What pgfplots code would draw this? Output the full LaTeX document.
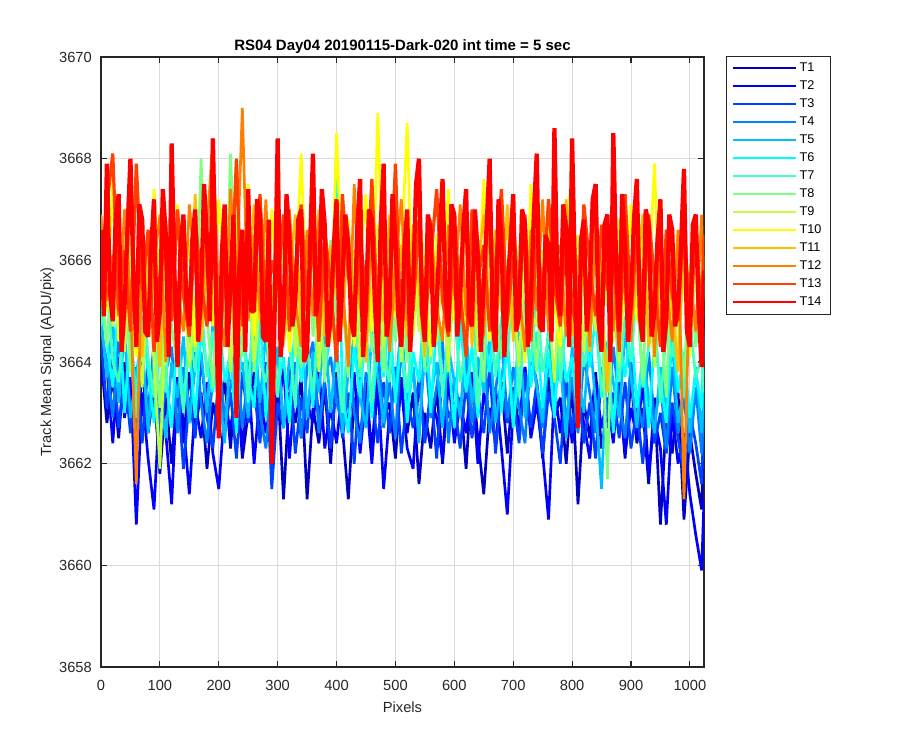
\documentclass[border=0pt]{standalone}
\usepackage{pgfplots}
\pgfplotsset{compat=1.18}
\usepackage{pgfplotstable}
\usepackage{fontspec}
\setmainfont{Liberation Sans}

% jet(14)
\definecolor{jetA}{rgb}{0,0,0.75}
\definecolor{jetB}{rgb}{0,0,1}
\definecolor{jetC}{rgb}{0,0.25,1}
\definecolor{jetD}{rgb}{0,0.5,1}
\definecolor{jetE}{rgb}{0,0.75,1}
\definecolor{jetF}{rgb}{0,1,1}
\definecolor{jetG}{rgb}{0.25,1,0.75}
\definecolor{jetH}{rgb}{0.5,1,0.5}
\definecolor{jetI}{rgb}{0.75,1,0.25}
\definecolor{jetJ}{rgb}{1,1,0}
\definecolor{jetK}{rgb}{1,0.75,0}
\definecolor{jetL}{rgb}{1,0.5,0}
\definecolor{jetM}{rgb}{1,0.25,0}
\definecolor{jetN}{rgb}{1,0,0}
\definecolor{axgray}{rgb}{0.15,0.15,0.15}

\pgfplotstableread{
x T1 T2 T3 T4 T5 T6 T7 T8 T9 T10 T11 T12 T13
0 3664.1 3663.6 3664.4 3664.6 3664.9 3665.2 3664.7 3665.6 3665.4 3666.3 3665.1 3666.9 3665.8
10 3662.8 3663.9 3663.1 3664.0 3663.7 3664.4 3665.6 3664.3 3666.6 3665.0 3666.7 3665.2 3667.1
20 3663.7 3662.4 3664.2 3662.9 3664.8 3663.5 3664.0 3666.2 3664.7 3667.6 3665.3 3666.1 3668.1
30 3662.5 3664.1 3662.7 3664.5 3663.2 3665.3 3663.6 3664.5 3665.9 3664.4 3666.0 3664.9 3665.0
40 3664.0 3662.9 3663.8 3663.3 3664.6 3663.0 3665.1 3665.8 3664.2 3666.5 3664.6 3667.0 3666.2
50 3663.1 3663.7 3662.6 3664.2 3662.9 3664.6 3664.3 3663.8 3666.3 3665.2 3667.2 3665.3 3664.6
60 3662.3 3660.8 3663.9 3662.7 3663.8 3663.3 3662.9 3665.2 3664.8 3664.1 3665.0 3661.6 3667.9
70 3663.9 3663.4 3662.4 3664.1 3664.4 3664.9 3665.5 3664.0 3663.5 3666.7 3664.1 3666.3 3665.4
80 3662.6 3662.1 3664.0 3663.0 3662.6 3663.8 3664.1 3666.0 3665.7 3664.6 3666.5 3664.7 3666.6
90 3663.5 3661.1 3663.2 3664.4 3664.1 3662.8 3663.3 3664.6 3664.0 3667.4 3665.4 3665.9 3664.2
100 3661.8 3663.3 3662.2 3662.5 3663.4 3664.5 3664.8 3663.1 3661.9 3665.3 3663.9 3666.9 3665.7
110 3663.3 3662.6 3663.6 3663.8 3662.5 3663.7 3663.4 3665.4 3665.0 3666.0 3666.8 3664.0 3666.3
120 3662.0 3661.2 3662.8 3664.3 3664.0 3662.7 3665.9 3664.7 3666.1 3664.9 3665.6 3666.1 3664.8
130 3663.6 3663.7 3663.5 3662.6 3663.3 3664.7 3664.2 3663.9 3664.9 3667.1 3664.3 3665.4 3667.0
140 3662.4 3662.8 3661.9 3663.9 3664.5 3663.2 3663.0 3666.3 3665.6 3665.4 3666.6 3664.6 3665.3
150 3663.8 3661.4 3663.3 3662.8 3662.8 3664.3 3664.7 3665.0 3663.9 3666.4 3665.0 3667.1 3664.5
160 3662.7 3663.2 3662.5 3664.6 3663.9 3662.9 3663.8 3664.2 3665.3 3664.3 3667.3 3665.8 3666.8
170 3663.4 3662.5 3664.1 3663.2 3664.2 3664.6 3665.2 3668.0 3664.6 3665.9 3664.4 3664.9 3665.6
180 3661.9 3663.6 3662.9 3662.4 3663.0 3663.9 3663.7 3664.9 3666.8 3666.6 3665.8 3666.6 3664.7
190 3663.2 3662.2 3662.3 3663.7 3664.8 3663.4 3664.6 3663.5 3665.5 3664.7 3666.2 3668.4 3666.9
200 3662.6 3661.5 3663.7 3664.1 3663.5 3664.9 3662.9 3665.7 3664.3 3667.2 3664.7 3665.2 3663.8
210 3663.7 3663.1 3662.6 3662.9 3662.4 3663.6 3665.4 3664.4 3666.2 3665.8 3666.9 3664.3 3665.9
220 3662.3 3662.7 3663.4 3663.5 3664.3 3664.2 3664.1 3668.1 3663.8 3664.8 3665.5 3667.4 3665.1
230 3663.9 3663.5 3662.1 3664.3 3663.6 3662.6 3663.5 3665.0 3665.8 3666.9 3664.2 3665.5 3668.0
240 3662.1 3662.3 3663.8 3662.7 3664.0 3664.8 3664.9 3664.1 3664.5 3665.2 3666.4 3669.0 3664.7
250 3663.0 3663.8 3662.8 3663.8 3662.9 3663.7 3663.2 3666.1 3666.4 3667.5 3665.3 3664.8 3666.4
260 3663.8 3662.0 3663.5 3664.6 3664.7 3663.1 3665.6 3663.8 3664.0 3664.5 3667.1 3666.5 3665.2
270 3662.5 3663.4 3662.4 3663.0 3663.2 3665.0 3664.0 3665.5 3665.2 3666.1 3664.8 3665.0 3667.3
280 3663.3 3662.6 3664.0 3662.3 3664.6 3662.9 3663.6 3664.7 3666.5 3664.6 3666.0 3667.2 3664.9
290 3662.2 3663.3 3661.5 3663.6 3663.1 3664.4 3664.7 3663.4 3663.7 3667.0 3665.0 3664.5 3666.0
300 3663.6 3662.9 3663.2 3664.2 3664.3 3663.5 3663.3 3666.0 3665.6 3665.3 3666.7 3666.1 3665.4
310 3661.3 3663.9 3662.7 3662.8 3662.7 3664.1 3665.1 3664.3 3664.6 3666.3 3664.4 3664.7 3666.9
320 3663.4 3662.1 3663.9 3663.3 3664.1 3662.8 3664.4 3665.6 3666.6 3664.2 3665.6 3667.0 3664.6
330 3662.8 3663.6 3662.2 3664.0 3663.5 3664.9 3663.1 3664.8 3664.1 3665.6 3666.9 3665.2 3665.8
340 3663.7 3662.5 3663.3 3662.5 3664.9 3663.6 3665.7 3663.9 3665.9 3668.1 3664.6 3664.3 3667.1
350 3661.3 3663.2 3662.6 3663.9 3662.9 3664.4 3664.3 3666.5 3664.9 3664.7 3666.3 3666.6 3665.0
360 3663.1 3662.8 3664.1 3664.4 3664.2 3663.1 3663.4 3664.5 3666.0 3666.6 3665.1 3664.9 3666.4
370 3662.4 3663.9 3662.9 3662.6 3663.4 3665.2 3664.9 3665.7 3663.8 3665.1 3667.0 3666.8 3664.4
380 3663.5 3662.3 3663.6 3663.7 3664.7 3663.8 3663.9 3663.6 3665.6 3666.2 3664.5 3665.3 3666.6
390 3662.0 3663.1 3662.3 3664.1 3663.0 3664.6 3665.6 3666.4 3664.4 3664.4 3666.3 3664.6 3665.5
400 3663.8 3662.4 3663.7 3663.2 3664.4 3668.2 3664.1 3664.8 3666.9 3668.5 3665.4 3666.4 3664.0
410 3662.7 3663.5 3662.5 3662.8 3662.6 3663.4 3663.0 3665.3 3665.0 3665.5 3664.7 3665.6 3667.3
420 3661.3 3662.7 3663.4 3664.5 3663.8 3662.6 3664.6 3663.7 3664.5 3666.8 3666.6 3663.9 3665.7
430 3663.3 3663.8 3662.0 3663.0 3664.5 3664.3 3665.3 3666.1 3666.2 3664.3 3665.2 3667.5 3664.9
440 3662.5 3662.2 3663.8 3662.4 3663.3 3663.3 3663.7 3664.6 3663.9 3665.9 3667.0 3665.1 3666.5
450 3663.6 3663.4 3662.8 3663.8 3662.7 3664.7 3664.5 3665.9 3665.8 3667.3 3664.0 3664.4 3665.3
460 3662.2 3662.0 3663.3 3663.3 3664.6 3662.9 3663.2 3664.2 3664.7 3664.6 3666.4 3666.9 3667.6
470 3663.9 3663.6 3662.4 3664.4 3663.7 3664.4 3665.0 3665.2 3666.7 3668.9 3665.7 3665.0 3664.7
480 3662.9 3661.5 3663.6 3662.7 3662.8 3663.7 3664.2 3663.8 3664.3 3665.0 3664.8 3666.6 3666.4
490 3663.2 3663.0 3662.6 3663.6 3664.2 3665.0 3663.6 3666.7 3665.5 3666.7 3666.9 3664.2 3665.1
500 3662.1 3662.6 3663.9 3662.5 3663.4 3663.2 3665.7 3664.4 3666.3 3664.9 3665.0 3665.9 3667.9
510 3663.7 3663.5 3662.2 3664.3 3664.8 3664.5 3664.3 3665.6 3664.0 3666.1 3666.3 3667.2 3664.3
520 3662.6 3662.3 3663.3 3663.1 3663.1 3662.8 3663.4 3664.0 3665.7 3668.7 3664.5 3664.8 3666.2
530 3663.4 3661.9 3662.7 3663.9 3663.9 3664.2 3664.8 3666.3 3666.5 3664.5 3666.7 3665.7 3665.0
540 3661.6 3663.7 3663.7 3662.6 3662.4 3663.6 3665.4 3665.1 3664.6 3667.0 3665.5 3666.3 3666.8
550 3663.0 3662.5 3662.4 3664.2 3664.6 3665.3 3663.8 3663.9 3665.3 3665.8 3664.1 3664.6 3664.8
560 3662.3 3663.3 3663.5 3662.9 3663.3 3663.0 3664.0 3666.4 3666.1 3664.1 3666.5 3666.8 3666.0
570 3663.5 3662.9 3662.1 3663.5 3664.0 3664.8 3665.5 3664.9 3664.4 3666.5 3665.2 3665.1 3667.4
580 3662.0 3662.1 3663.8 3664.4 3662.7 3663.5 3663.3 3665.8 3665.9 3665.3 3667.0 3664.4 3665.2
590 3663.6 3663.8 3662.9 3662.4 3664.3 3664.1 3664.7 3664.1 3663.8 3667.4 3664.6 3666.7 3664.5
600 3662.8 3662.4 3663.2 3663.7 3663.6 3662.7 3665.0 3665.5 3666.4 3664.8 3666.1 3665.3 3666.7
610 3663.3 3663.2 3662.3 3663.0 3662.9 3664.9 3663.6 3666.1 3664.9 3666.0 3665.3 3667.1 3665.4
620 3661.9 3662.6 3663.6 3664.1 3664.6 3663.4 3664.4 3664.3 3665.4 3664.2 3666.8 3664.9 3664.1
630 3663.8 3663.7 3662.5 3662.8 3663.2 3664.3 3665.8 3665.7 3666.6 3666.9 3664.3 3665.8 3667.0
640 3662.5 3662.0 3663.4 3663.8 3664.1 3662.9 3663.1 3664.8 3664.2 3665.2 3665.8 3666.4 3665.6
650 3661.4 3663.4 3662.6 3664.3 3663.4 3664.6 3664.6 3663.6 3665.7 3667.6 3666.9 3664.5 3666.3
660 3663.1 3662.8 3663.9 3662.6 3664.5 3663.8 3665.2 3666.6 3665.1 3664.4 3664.9 3667.3 3664.6
670 3662.4 3663.5 3662.2 3663.4 3662.8 3665.1 3663.7 3665.0 3664.3 3666.2 3666.6 3665.1 3665.9
680 3663.6 3662.3 3663.5 3664.5 3663.7 3663.0 3664.9 3664.1 3666.8 3665.6 3665.0 3666.2 3667.4
690 3662.2 3661.0 3662.8 3662.9 3664.4 3664.4 3664.1 3665.9 3664.6 3664.8 3667.1 3664.7 3664.8
700 3663.5 3663.1 3663.3 3663.9 3663.0 3662.7 3665.6 3664.6 3665.5 3666.6 3664.4 3666.8 3666.1
710 3662.7 3662.7 3662.4 3663.1 3664.6 3664.0 3663.3 3666.3 3663.9 3665.4 3665.9 3665.4 3665.2
720 3663.9 3663.9 3663.8 3662.4 3662.9 3665.2 3664.7 3664.5 3666.3 3664.0 3666.4 3664.2 3666.9
730 3662.6 3662.5 3662.7 3664.2 3664.2 3663.5 3664.0 3665.1 3665.0 3667.5 3664.7 3666.6 3664.4
740 3663.4 3663.2 3663.6 3663.6 3663.5 3664.6 3665.4 3663.8 3664.7 3665.7 3666.8 3665.0 3666.5
750 3662.1 3662.2 3662.2 3662.7 3662.8 3663.1 3663.8 3666.2 3666.2 3664.7 3665.1 3667.2 3665.3
760 3663.7 3660.9 3663.4 3664.0 3664.7 3664.2 3664.5 3664.6 3665.2 3666.9 3664.9 3664.6 3667.2
770 3662.9 3663.5 3662.9 3663.3 3663.3 3662.9 3665.9 3665.4 3663.6 3665.1 3666.5 3665.9 3665.5
780 3663.3 3662.6 3662.0 3664.4 3664.0 3664.8 3663.6 3664.0 3666.0 3664.3 3665.4 3666.3 3664.7
790 3662.0 3663.7 3663.7 3662.8 3662.5 3663.6 3664.8 3666.5 3664.8 3666.4 3667.2 3664.5 3666.8
800 3663.6 3662.4 3662.6 3663.7 3664.3 3664.1 3664.3 3665.3 3665.8 3667.8 3664.5 3667.0 3665.1
810 3661.2 3663.3 3663.5 3662.6 3663.8 3662.8 3665.1 3663.7 3666.5 3664.6 3666.1 3665.2 3664.5
820 3663.2 3662.8 3662.4 3664.1 3663.0 3664.7 3663.9 3665.8 3664.2 3666.3 3665.6 3666.5 3667.1
830 3662.5 3662.1 3663.2 3663.4 3664.5 3663.9 3664.6 3664.4 3665.6 3665.2 3664.2 3664.3 3665.9
840 3663.8 3663.6 3662.1 3662.6 3663.2 3664.9 3665.3 3666.0 3664.6 3667.2 3666.9 3666.7 3664.9
850 3662.3 3662.7 3663.8 3663.9 3661.5 3663.3 3663.4 3664.9 3666.1 3664.9 3665.3 3665.0 3666.7
860 3663.0 3663.3 3662.7 3662.9 3664.4 3664.3 3664.2 3661.7 3665.1 3666.0 3663.4 3666.9 3665.4
870 3662.7 3662.4 3663.4 3664.3 3663.6 3662.6 3665.6 3665.7 3667.6 3664.4 3666.3 3664.6 3666.2
880 3663.5 3663.8 3662.5 3663.2 3662.9 3664.5 3663.6 3663.9 3664.0 3666.8 3665.0 3666.1 3664.2
890 3662.1 3662.2 3663.6 3662.5 3664.6 3663.7 3664.9 3666.4 3665.7 3665.0 3667.3 3665.3 3667.3
900 3663.7 3663.1 3662.3 3664.0 3663.7 3664.8 3664.0 3664.6 3664.5 3667.1 3664.6 3664.4 3665.0
910 3662.4 3662.5 3663.1 3663.3 3662.7 3663.1 3665.5 3665.5 3666.6 3664.8 3665.7 3667.0 3666.4
920 3663.1 3663.6 3662.0 3662.7 3664.2 3664.1 3663.5 3663.6 3664.8 3666.5 3666.9 3664.9 3664.7
930 3661.6 3661.8 3663.3 3664.2 3663.3 3662.7 3664.3 3666.1 3665.3 3665.5 3664.3 3666.5 3666.9
940 3663.3 3662.9 3662.4 3662.8 3662.6 3664.4 3665.0 3664.5 3663.9 3667.9 3665.9 3664.1 3665.6
950 3660.8 3662.3 3663.0 3663.6 3663.9 3663.6 3663.2 3665.0 3666.2 3664.5 3664.8 3666.3 3664.3
960 3662.9 3660.8 3662.2 3662.3 3663.1 3662.8 3664.6 3663.3 3664.6 3666.3 3666.2 3665.6 3666.6
970 3662.2 3663.0 3663.2 3663.9 3664.4 3664.6 3664.1 3666.2 3665.5 3664.9 3665.1 3664.4 3665.3
980 3663.4 3662.0 3662.5 3662.6 3662.8 3663.4 3665.3 3664.8 3664.1 3666.6 3663.8 3666.6 3664.8
990 3660.9 3662.6 3661.8 3663.3 3663.5 3664.2 3663.3 3663.7 3666.0 3665.6 3666.7 3661.3 3666.9
1000 3662.6 3661.4 3663.0 3662.2 3662.6 3662.9 3664.8 3665.9 3664.6 3664.1 3664.9 3665.8 3664.6
1010 3661.8 3660.6 3662.4 3663.5 3663.9 3663.8 3663.7 3664.3 3665.7 3666.8 3666.4 3664.6 3666.6
1020 3661.1 3659.9 3661.6 3662.2 3662.6 3663.1 3664.1 3665.1 3664.5 3665.1 3665.0 3666.9 3664.9
1024 3662.9 3661.3 3663.0 3663.2 3663.5 3664.5 3663.4 3664.0 3666.1 3666.5 3665.6 3664.9 3666.5
}\darktable

% T14 (drawn last, on top) sampled more finely
\pgfplotstableread{
x T14
0 3666.6
5 3664.9
10 3667.9
15 3665.4
20 3664.8
25 3666.9
30 3667.3
35 3664.2
40 3665.1
45 3666.6
50 3668.0
55 3665.7
60 3664.3
65 3667.1
70 3666.8
75 3664.6
80 3664.5
85 3666.2
90 3667.2
95 3664.4
100 3665.0
105 3667.4
110 3666.5
115 3664.1
120 3668.3
125 3665.6
130 3663.9
135 3666.3
140 3666.9
145 3665.2
150 3664.7
155 3666.4
160 3667.0
165 3664.4
170 3665.3
175 3667.5
180 3666.4
185 3664.8
190 3668.4
195 3665.5
200 3662.5
205 3666.1
210 3667.1
215 3664.3
220 3665.6
225 3666.9
230 3662.9
235 3665.9
240 3666.6
245 3664.2
250 3667.4
255 3665.0
260 3665.0
265 3667.2
270 3666.9
275 3664.5
280 3664.4
285 3666.8
290 3662.0
295 3665.1
300 3668.4
305 3664.1
310 3664.8
315 3667.3
320 3666.5
325 3664.7
330 3665.2
335 3666.8
340 3667.0
345 3664.0
350 3664.2
355 3666.3
360 3668.1
365 3664.9
370 3665.4
375 3667.4
380 3666.7
385 3664.3
390 3664.9
395 3666.2
400 3667.2
405 3664.4
410 3665.6
415 3666.9
420 3666.3
425 3664.8
430 3664.5
435 3666.6
440 3667.6
445 3664.1
450 3665.1
455 3667.0
460 3666.8
465 3665.2
470 3664.0
475 3666.7
480 3667.9
485 3664.5
490 3665.0
495 3667.3
500 3666.4
505 3664.9
510 3664.3
515 3666.2
520 3667.0
525 3664.2
530 3665.5
535 3667.5
540 3668.0
545 3665.0
550 3664.4
555 3666.9
560 3666.6
565 3664.3
570 3665.1
575 3666.4
580 3667.6
585 3665.3
590 3664.6
595 3667.1
600 3666.9
605 3664.5
610 3665.3
615 3666.6
620 3667.4
625 3664.9
630 3664.7
635 3667.0
640 3666.1
645 3664.2
650 3665.6
655 3666.7
660 3668.0
665 3664.8
670 3664.2
675 3667.2
680 3666.5
685 3664.1
690 3665.4
695 3666.3
700 3667.3
705 3664.6
710 3664.9
715 3667.0
720 3666.7
725 3664.3
730 3665.2
735 3666.9
740 3668.1
745 3664.7
750 3664.6
755 3666.5
760 3666.3
765 3664.4
770 3668.6
775 3665.5
780 3664.9
785 3667.1
790 3666.6
795 3664.3
800 3668.4
805 3665.6
810 3662.7
815 3666.4
820 3666.8
825 3664.6
830 3665.4
835 3667.2
840 3667.5
845 3664.8
850 3664.2
855 3666.7
860 3666.9
865 3664.0
870 3668.5
875 3665.8
880 3664.6
885 3667.3
890 3666.3
895 3664.4
900 3665.2
905 3666.8
910 3667.6
915 3664.9
920 3664.4
925 3667.0
930 3666.7
935 3664.5
940 3665.0
945 3666.4
950 3667.2
955 3664.2
960 3664.8
965 3666.9
970 3666.6
975 3664.7
980 3665.1
985 3666.3
990 3667.8
995 3664.6
1000 3664.3
1005 3666.7
1010 3666.9
1015 3665.0
1020 3663.9
1024 3665.8
}\redtable

\begin{document}
\begin{tikzpicture}
\path[use as bounding box] (0,0) rectangle (675pt,562.5pt);
\begin{axis}[
  at={(75.75pt,62.25pt)}, anchor=south west,
  scale only axis, width=452.25pt, height=457.5pt,
  xmin=0, xmax=1024, ymin=3658, ymax=3670,
  xtick={0,100,...,1000}, ytick={3658,3660,...,3670},
  /pgf/number format/1000 sep={},
  /pgf/number format/assume math mode=true,
  axis line style={axgray, line width=0.8pt},
  major tick style={axgray, line width=0.8pt},
  major tick length=4.6pt,
  tick align=inside,
  grid=major,
  major grid style={line width=0.6pt, black!14},
  ticklabel style={font=\fontsize{11}{13}\selectfont, text=axgray},
  xticklabel style={inner sep=0pt, anchor=base, yshift=-17.6pt},
  yticklabel style={inner sep=0pt, anchor=east, xshift=-6.75pt},
  title={RS04 Day04 20190115-Dark-020 int time = 5 sec},
  every axis title/.style={at={(axis description cs:0.5,1.0103)}, anchor=base,
    inner sep=0pt, font=\bfseries\fontsize{11.25}{13}\selectfont},
  xlabel={Pixels},
  ylabel={Track Mean Signal (ADU/pix)},
  every axis x label/.style={at={(axis description cs:0.5,-0.0754)},
    anchor=base, inner sep=0pt, font=\fontsize{11}{13}\selectfont, text=axgray},
  every axis y label/.style={at={(axis description cs:-0.0829,0.5)},
    rotate=90, anchor=base, inner sep=0pt, font=\fontsize{11}{13}\selectfont, text=axgray},
  no markers,
  every axis plot/.append style={line width=2pt, line join=bevel},
  legend style={at={(1.0365,1.0016)}, anchor=north west,
    draw=axgray, fill=white,
    inner xsep=4.5pt, inner ysep=3pt, row sep=1.4pt,
    font=\fontsize{9.5}{11}\selectfont},
  legend cell align=left,
  legend image code/.code={\draw[#1, line width=1.5pt] (0pt,0pt) -- (47pt,0pt);},
]
\addplot[draw=jetA] table[x=x,y=T1] {\darktable};
\addplot[draw=jetB] table[x=x,y=T2] {\darktable};
\addplot[draw=jetC] table[x=x,y=T3] {\darktable};
\addplot[draw=jetD] table[x=x,y=T4] {\darktable};
\addplot[draw=jetE] table[x=x,y=T5] {\darktable};
\addplot[draw=jetF] table[x=x,y=T6] {\darktable};
\addplot[draw=jetG] table[x=x,y=T7] {\darktable};
\addplot[draw=jetH] table[x=x,y=T8] {\darktable};
\addplot[draw=jetI] table[x=x,y=T9] {\darktable};
\addplot[draw=jetJ] table[x=x,y=T10] {\darktable};
\addplot[draw=jetK] table[x=x,y=T11] {\darktable};
\addplot[draw=jetL] table[x=x,y=T12] {\darktable};
\addplot[draw=jetM, line width=2.4pt] table[x=x,y=T13] {\darktable};
\addplot[draw=jetN, line width=3.2pt] table[x=x,y=T14] {\redtable};
\legend{T1,T2,T3,T4,T5,T6,T7,T8,T9,T10,T11,T12,T13,T14}
\end{axis}
\end{tikzpicture}
\end{document}
